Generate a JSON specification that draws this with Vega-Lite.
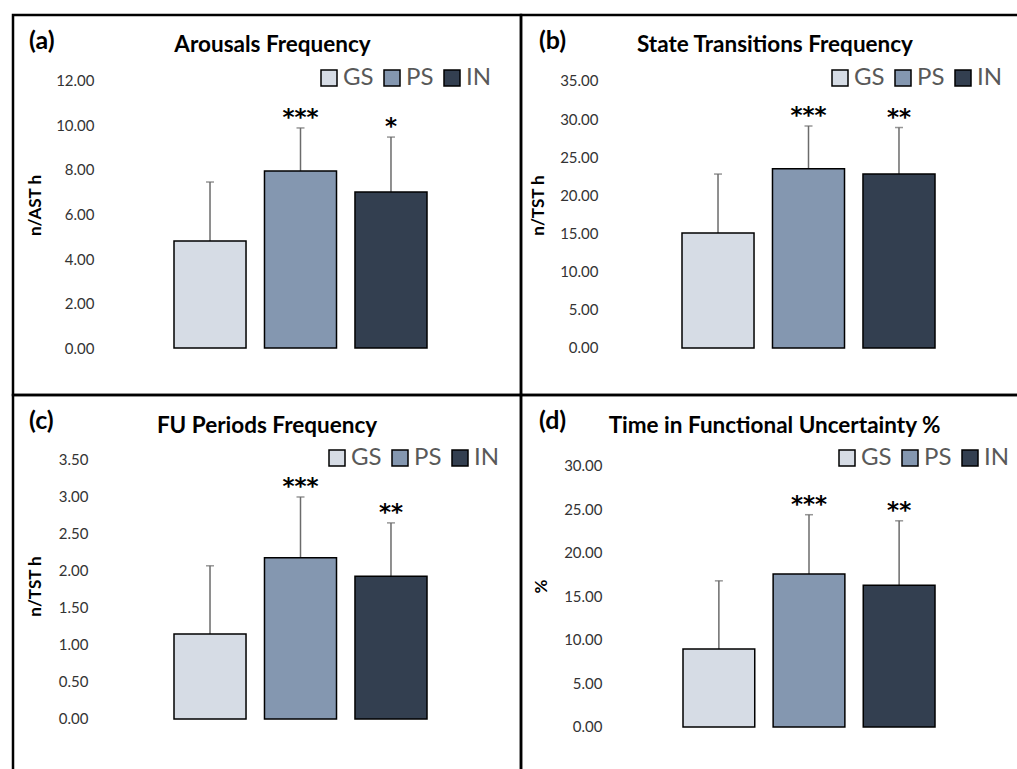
{
  "$schema": "https://vega.github.io/schema/vega-lite/v6.json",
  "padding": {"left": 11, "top": 13, "right": 0, "bottom": 0},
  "autosize": {"type": "pad"},
  "background": "white",
  "config": {
    "view": {"stroke": "black", "strokeWidth": 2.5},
    "axisY": {"labelFont": "Lato", "labelFontSize": 15, "labelColor": "#333333", "labelPadding": 0, "ticks": false, "domain": false, "grid": false, "format": ".2f", "titleFont": "Lato", "titleFontSize": 17, "titleFontWeight": "bold", "titleColor": "black"},
    "axisX": {"labels": false, "ticks": false, "domain": false, "grid": false, "titleFont": "Lato", "titleFontSize": 22.5, "titleFontWeight": "bold", "titleColor": "black", "titlePadding": 0, "titleBaseline": "middle"},
    "legend": {"orient": "none", "direction": "horizontal", "symbolType": "square", "symbolSize": 256, "symbolStrokeColor": "black", "symbolStrokeWidth": 1.5, "symbolOpacity": 1, "labelFont": "Lato", "labelFontSize": 24, "labelColor": "#595959", "labelOffset": 2, "columnPadding": 6, "padding": 0},
    "title": {"anchor": "start", "frame": "group", "offset": -39, "baseline": "middle", "font": "Lato", "fontSize": 25, "fontWeight": "bold", "color": "black"},
    "tick": {"color": "#6b6b6b", "thickness": 1.5, "size": 8},
    "rule": {"color": "#6b6b6b", "strokeWidth": 1.5},
    "bar": {"stroke": "black", "strokeWidth": 1.5},
    "text": {"font": "DejaVu Sans", "fontSize": 23, "fontWeight": "bold", "baseline": "alphabetic", "dy": -3, "color": "black"}
  },
  "datasets": {
    "a": [
      {"group": "GS", "mean": 4.81, "upper": 7.46, "stars": ""},
      {"group": "PS", "mean": 7.96, "upper": 9.89, "stars": "***"},
      {"group": "IN", "mean": 7.01, "upper": 9.48, "stars": "*"}
    ],
    "b": [
      {"group": "GS", "mean": 15.07, "upper": 22.8, "stars": ""},
      {"group": "PS", "mean": 23.5, "upper": 29.1, "stars": "***"},
      {"group": "IN", "mean": 22.8, "upper": 28.9, "stars": "**"}
    ],
    "c": [
      {"group": "GS", "mean": 1.15, "upper": 2.07, "stars": ""},
      {"group": "PS", "mean": 2.18, "upper": 3.0, "stars": "***"},
      {"group": "IN", "mean": 1.93, "upper": 2.65, "stars": "**"}
    ],
    "d": [
      {"group": "GS", "mean": 8.97, "upper": 16.8, "stars": ""},
      {"group": "PS", "mean": 17.6, "upper": 24.4, "stars": "***"},
      {"group": "IN", "mean": 16.3, "upper": 23.7, "stars": "**"}
    ]
  },
  "columns": 2,
  "spacing": 0,
  "bounds": "flush",
  "resolve": {"scale": {"x": "independent", "y": "independent", "color": "independent"}, "legend": {"color": "independent"}, "axis": {"x": "independent", "y": "independent"}},
  "concat": [
    {
      "width": 508, "height": 380,
      "title": {"text": "(a)", "dx": 16},
      "data": {"name": "a"},
      "encoding": {
        "x": {"field": "group", "type": "nominal", "sort": null, "scale": {"domain": ["GS", "PS", "IN"], "range": [161, 414], "paddingInner": 0.204, "paddingOuter": 0}, "axis": {"orient": "top", "offset": -29, "title": "Arousals Frequency", "titleX": 259}},
        "y": {"field": "mean", "type": "quantitative", "scale": {"domain": [-2.112, 14.966], "nice": false, "zero": false}, "axis": {"values": [0, 2, 4, 6, 8, 10, 12], "offset": -81, "title": "n/AST h", "titlePadding": 11}}
      },
      "layer": [
        {"mark": "rule", "encoding": {"y2": {"field": "upper"}}},
        {"mark": "tick", "encoding": {"y": {"field": "upper", "type": "quantitative"}}},
        {"mark": "bar", "encoding": {"y2": {"datum": 0},
           "color": {"field": "group", "type": "nominal", "sort": null, "scale": {"domain": ["GS", "PS", "IN"], "range": ["#D6DCE5", "#8497B0", "#333F50"]}, "legend": {"title": null, "legendX": 304, "legendY": 51}}}},
        {"mark": "text", "encoding": {"y": {"field": "upper", "type": "quantitative"}, "text": {"field": "stars"}}}
      ]
    },
    {
      "width": 502, "height": 380,
      "title": {"text": "(b)", "dx": 18},
      "data": {"name": "b"},
      "encoding": {
        "x": {"field": "group", "type": "nominal", "sort": null, "scale": {"domain": ["GS", "PS", "IN"], "range": [161, 414], "paddingInner": 0.204, "paddingOuter": 0}, "axis": {"orient": "top", "offset": -29, "title": "State Transitions Frequency", "titleX": 253.5}},
        "y": {"field": "mean", "type": "quantitative", "scale": {"domain": [-6.161, 43.65], "nice": false, "zero": false}, "axis": {"values": [0, 5, 10, 15, 20, 25, 30, 35], "offset": -77, "title": "n/TST h", "titlePadding": 12}}
      },
      "layer": [
        {"mark": "rule", "encoding": {"y2": {"field": "upper"}}},
        {"mark": "tick", "encoding": {"y": {"field": "upper", "type": "quantitative"}}},
        {"mark": "bar", "encoding": {"y2": {"datum": 0},
           "color": {"field": "group", "type": "nominal", "sort": null, "scale": {"domain": ["GS", "PS", "IN"], "range": ["#D6DCE5", "#8497B0", "#333F50"]}, "legend": {"title": null, "legendX": 307, "legendY": 51}}}},
        {"mark": "text", "encoding": {"y": {"field": "upper", "type": "quantitative"}, "text": {"field": "stars"}}}
      ]
    },
    {
      "width": 508, "height": 382,
      "title": {"text": "(c)", "dx": 16},
      "data": {"name": "c"},
      "encoding": {
        "x": {"field": "group", "type": "nominal", "sort": null, "scale": {"domain": ["GS", "PS", "IN"], "range": [161, 414], "paddingInner": 0.204, "paddingOuter": 0}, "axis": {"orient": "top", "offset": -30, "title": "FU Periods Frequency", "titleX": 253.5}},
        "y": {"field": "mean", "type": "quantitative", "scale": {"domain": [-0.784, 4.378], "nice": false, "zero": false}, "axis": {"values": [0, 0.5, 1, 1.5, 2, 2.5, 3, 3.5], "offset": -75, "title": "n/TST h", "titlePadding": 14}}
      },
      "layer": [
        {"mark": "rule", "encoding": {"y2": {"field": "upper"}}},
        {"mark": "tick", "encoding": {"y": {"field": "upper", "type": "quantitative"}}},
        {"mark": "bar", "encoding": {"y2": {"datum": 0},
           "color": {"field": "group", "type": "nominal", "sort": null, "scale": {"domain": ["GS", "PS", "IN"], "range": ["#D6DCE5", "#8497B0", "#333F50"]}, "legend": {"title": null, "legendX": 312, "legendY": 51}}}},
        {"mark": "text", "encoding": {"y": {"field": "upper", "type": "quantitative"}, "text": {"field": "stars"}}}
      ]
    },
    {
      "width": 502, "height": 382,
      "title": {"text": "(d)", "dx": 18},
      "data": {"name": "d"},
      "encoding": {
        "x": {"field": "group", "type": "nominal", "sort": null, "scale": {"domain": ["GS", "PS", "IN"], "range": [162, 414], "paddingInner": 0.204, "paddingOuter": 0}, "axis": {"orient": "top", "offset": -30, "title": "Time in Functional Uncertainty %", "titleX": 253}},
        "y": {"field": "mean", "type": "quantitative", "scale": {"domain": [-5.747, 38.16], "nice": false, "zero": false}, "axis": {"values": [0, 5, 10, 15, 20, 25, 30], "offset": -81, "title": "%", "titlePadding": 13}}
      },
      "layer": [
        {"mark": "rule", "encoding": {"y2": {"field": "upper"}}},
        {"mark": "tick", "encoding": {"y": {"field": "upper", "type": "quantitative"}}},
        {"mark": "bar", "encoding": {"y2": {"datum": 0},
           "color": {"field": "group", "type": "nominal", "sort": null, "scale": {"domain": ["GS", "PS", "IN"], "range": ["#D6DCE5", "#8497B0", "#333F50"]}, "legend": {"title": null, "legendX": 314, "legendY": 51}}}},
        {"mark": "text", "encoding": {"y": {"field": "upper", "type": "quantitative"}, "text": {"field": "stars"}}}
      ]
    }
  ]
}
